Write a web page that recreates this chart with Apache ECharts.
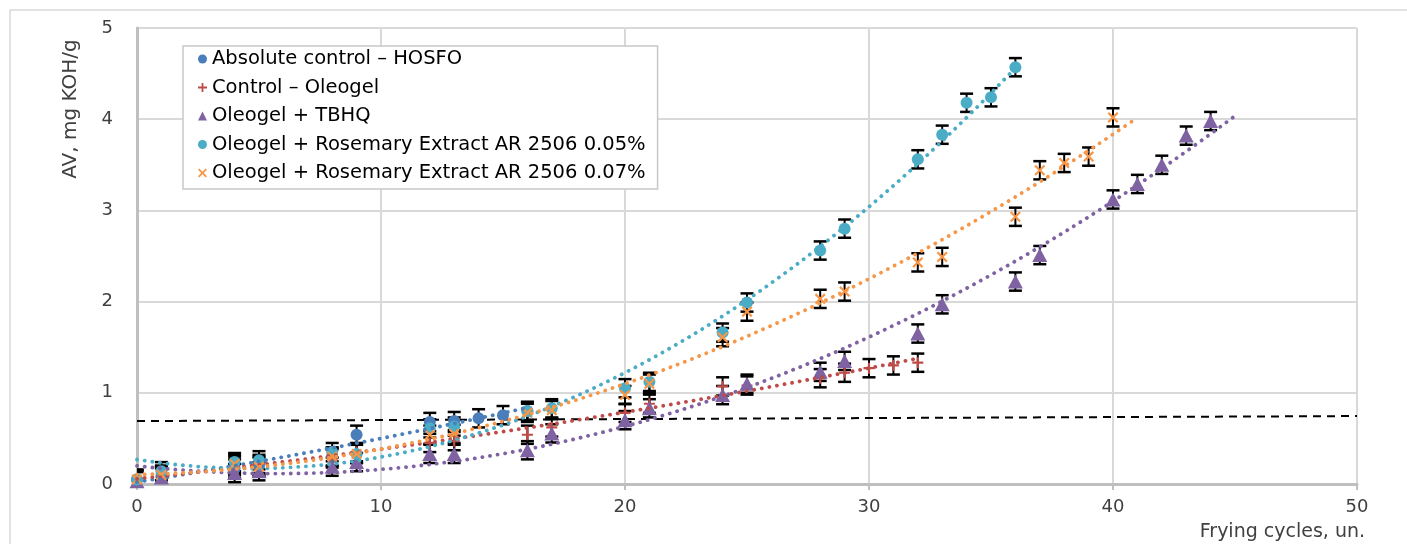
<!DOCTYPE html>
<html>
<head>
<meta charset="utf-8">
<script src="https://cdn.jsdelivr.net/npm/echarts@6/dist/echarts.min.js"></script>
<style>
  html, body { margin: 0; padding: 0; background: #fff; }
  #chart { width: 1407px; height: 544px; }
</style>
</head>
<body>
<div id="chart"></div>
<script>
// Acid value (mg KOH/g) versus frying cycle for each oil / oleogel formulation
const cyclesHOSFO = [0, 1, 4, 5, 8, 9, 12, 13, 14, 15, 16];
const avHOSFO     = [0.05, 0.08, 0.17, 0.20, 0.30, 0.54, 0.68, 0.69, 0.72, 0.755, 0.80];

const cyclesOleogel = [0, 1, 4, 5, 8, 9, 12, 13, 16, 17, 20, 21, 24, 25, 28, 29, 30, 31, 32];
const avOleogel     = [0.06, 0.10, 0.20, 0.22, 0.28, 0.35, 0.45, 0.47, 0.54, 0.62, 0.78, 0.88, 1.07, 1.08, 1.16, 1.22, 1.27, 1.30, 1.33];

const cyclesTBHQ = [0, 1, 4, 5, 8, 9, 12, 13, 16, 17, 20, 21, 24, 25, 28, 29, 32, 33, 36, 37, 40, 41, 42, 43, 44];
const avTBHQ     = [0.03, 0.07, 0.12, 0.14, 0.19, 0.24, 0.33, 0.33, 0.37, 0.555, 0.70, 0.83, 0.975, 1.10, 1.23, 1.35, 1.65, 1.97, 2.22, 2.51, 3.12, 3.29, 3.50, 3.82, 3.98];

const cyclesRE005 = [0, 1, 4, 5, 8, 9, 12, 13, 16, 17, 20, 21, 24, 25, 28, 29, 32, 33, 34, 35, 36];
const avRE005     = [0.05, 0.14, 0.24, 0.26, 0.35, 0.33, 0.61, 0.63, 0.80, 0.83, 1.05, 1.12, 1.66, 1.99, 2.56, 2.80, 3.56, 3.83, 4.18, 4.24, 4.57];

const cyclesRE007 = [0, 1, 4, 5, 8, 9, 12, 13, 16, 17, 20, 21, 24, 25, 28, 29, 32, 33, 36, 37, 38, 39, 40];
const avRE007     = [0.05, 0.10, 0.22, 0.19, 0.30, 0.33, 0.54, 0.55, 0.78, 0.81, 0.975, 1.10, 1.61, 1.89, 2.03, 2.11, 2.43, 2.49, 2.93, 3.44, 3.52, 3.59, 4.02];

// Standard deviation shown by the error bars
const avError = 0.1;

// Reference limit line (dashed)
const limitX = [0, 50];
const limitY = [0.69, 0.745];

// Axis ticks
const xTicks = [0, 10, 20, 30, 40, 50];
const yTicks = [0, 1, 2, 3, 4, 5];

const seriesDefs = [
  { name: 'Absolute control – HOSFO', x: cyclesHOSFO, y: avHOSFO, color: '#4A7EBB',
    symbol: 'circle', size: 12, trendTo: 16 },
  { name: 'Control – Oleogel', x: cyclesOleogel, y: avOleogel, color: '#BE4B48',
    symbol: 'path://M4,0H6V4H10V6H6V10H4V6H0V4H4Z', size: 11, trendTo: 32 },
  { name: 'Oleogel + TBHQ', x: cyclesTBHQ, y: avTBHQ, color: '#7E62A1',
    symbol: 'triangle', size: [15, 14], trendTo: 45 },
  { name: 'Oleogel + Rosemary Extract AR 2506 0.05%', x: cyclesRE005, y: avRE005, color: '#4BACC6',
    symbol: 'circle', size: 12, trendTo: 36 },
  { name: 'Oleogel + Rosemary Extract AR 2506 0.07%', x: cyclesRE007, y: avRE007, color: '#F79646',
    symbol: 'path://M0,1.4L1.4,0L5,3.6L8.6,0L10,1.4L6.4,5L10,8.6L8.6,10L5,6.4L1.4,10L0,8.6L3.6,5Z', size: 11, trendTo: 41 }
];

// Least-squares polynomial fit (second order), as used for the trend lines
function polyFit(xs, ys, deg) {
  const n = deg + 1;
  const A = [];
  for (let r = 0; r < n; r++) {
    A.push(new Array(n + 1).fill(0));
    for (let c = 0; c < n; c++) {
      let s = 0;
      for (let i = 0; i < xs.length; i++) s += Math.pow(xs[i], r + c);
      A[r][c] = s;
    }
    let t = 0;
    for (let i = 0; i < xs.length; i++) t += ys[i] * Math.pow(xs[i], r);
    A[r][n] = t;
  }
  for (let p = 0; p < n; p++) {
    let best = p;
    for (let r = p + 1; r < n; r++) if (Math.abs(A[r][p]) > Math.abs(A[best][p])) best = r;
    [A[p], A[best]] = [A[best], A[p]];
    for (let r = 0; r < n; r++) {
      if (r === p) continue;
      const f = A[r][p] / A[p][p];
      for (let c = p; c <= n; c++) A[r][c] -= f * A[p][c];
    }
  }
  return A.map((row, i) => row[n] / row[i]);
}

function trendPoints(xs, ys, xEnd) {
  const coef = polyFit(xs, ys, 2);
  const pts = [];
  for (let x = 0; x <= xEnd + 1e-9; x += 0.25) {
    pts.push([x, coef[0] + coef[1] * x + coef[2] * x * x]);
  }
  return pts;
}

function errorBarItem(params, api) {
  const x = api.value(0);
  const y = api.value(1);
  const top = api.coord([x, y + avError]);
  const bot = api.coord([x, y - avError]);
  const half = 6.5;
  const stem = { stroke: '#000', lineWidth: 2 };
  const cap = { stroke: '#000', lineWidth: 2.5 };
  return {
    type: 'group',
    children: [
      { type: 'line', shape: { x1: top[0], y1: top[1], x2: bot[0], y2: bot[1] }, style: stem },
      { type: 'line', shape: { x1: top[0] - half, y1: top[1], x2: top[0] + half, y2: top[1] }, style: cap },
      { type: 'line', shape: { x1: bot[0] - half, y1: bot[1], x2: bot[0] + half, y2: bot[1] }, style: cap }
    ]
  };
}

const series = [];

// limit line
series.push({
  name: 'limit', type: 'line', silent: true, symbol: 'none',
  data: limitX.map((x, i) => [x, limitY[i]]),
  lineStyle: { color: '#000', width: 2, type: [8, 6] },
  z: 2
});

seriesDefs.forEach(d => {
  const pts = d.x.map((x, i) => [x, d.y[i]]);
  series.push({
    name: d.name + ' err', type: 'custom', renderItem: errorBarItem,
    data: pts, clip: true, silent: true, z: 3
  });
  series.push({
    name: d.name, type: 'scatter', data: pts,
    symbol: d.symbol, symbolSize: d.size,
    itemStyle: { color: d.color, opacity: 1 },
    z: 4
  });
  series.push({
    name: d.name + ' trend', type: 'line', symbol: 'none', silent: true,
    data: trendPoints(d.x, d.y, d.trendTo),
    lineStyle: { color: d.color, width: 3.8, type: [0.1, 7.6], cap: 'round' },
    z: 5
  });
});

const chart = echarts.init(document.getElementById('chart'), null, { renderer: 'canvas' });

chart.setOption({
  animation: false,
  backgroundColor: '#fff',
  textStyle: { fontFamily: 'DejaVu Sans' },
  grid: { left: 137, right: 50, top: 28, bottom: 60, containLabel: false },
  xAxis: {
    type: 'value', min: xTicks[0], max: xTicks[xTicks.length - 1], interval: 10,
    axisLine: { show: true, onZero: false, lineStyle: { color: '#BFBFBF', width: 3 } },
    axisTick: { show: true, length: 6, lineStyle: { color: '#BFBFBF', width: 2 } },
    axisLabel: { color: '#404040', fontSize: 18, fontFamily: 'DejaVu Sans', margin: 14 },
    splitLine: { show: true, lineStyle: { color: '#D9D9D9', width: 2 } }
  },
  yAxis: {
    type: 'value', min: yTicks[0], max: yTicks[yTicks.length - 1], interval: 1,
    axisLine: { show: true, onZero: false, lineStyle: { color: '#BFBFBF', width: 3 } },
    axisTick: { show: false },
    axisLabel: { color: '#404040', fontSize: 18, fontFamily: 'DejaVu Sans', margin: 24 },
    splitLine: { show: true, lineStyle: { color: '#D9D9D9', width: 2 } }
  },
  legend: {
    data: seriesDefs.map(d => d.name),
    orient: 'vertical',
    left: 183, top: 46,
    padding: [3, 12, 6, 15],
    itemGap: 8.5,
    itemWidth: 9, itemHeight: 9,
    backgroundColor: '#fff',
    borderColor: '#C8C8C8', borderWidth: 1.5,
    textStyle: { color: '#000', fontSize: 19.5, fontFamily: 'DejaVu Sans', lineHeight: 20 },
    selectedMode: false
  },
  graphic: [
    { type: 'rect', silent: true, z: -10,
      shape: { x: 10, y: 10, width: 1420, height: 560 },
      style: { fill: 'none', stroke: '#D9D9D9', lineWidth: 1.5 } },
    { type: 'text', silent: true, x: 71, y: 109, rotation: Math.PI / 2,
      style: { text: 'AV, mg KOH/g', fill: '#404040', fontSize: 20, fontFamily: 'DejaVu Sans',
               align: 'center', verticalAlign: 'middle' } },
    { type: 'text', silent: true, x: 1365, y: 523,
      style: { text: 'Frying cycles, un.', fill: '#404040', fontSize: 19, fontFamily: 'DejaVu Sans',
               align: 'right', verticalAlign: 'top' } }
  ],
  series
});
</script>
</body>
</html>
